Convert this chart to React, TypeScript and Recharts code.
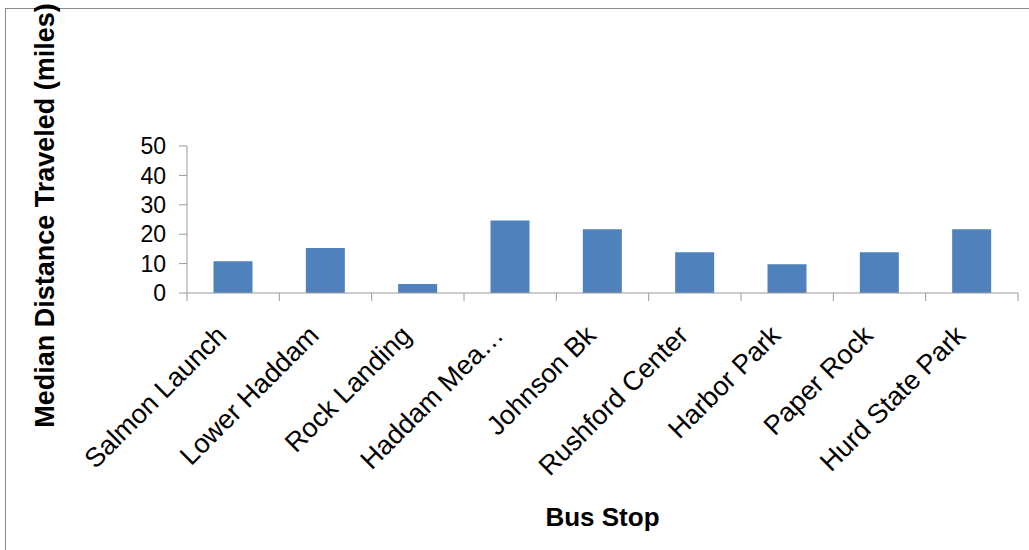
import { BarChart, Bar, XAxis, YAxis } from "recharts"

const stops = [
  "Salmon Launch",
  "Lower Haddam",
  "Rock Landing",
  "Haddam Mea…",
  "Johnson Bk",
  "Rushford Center",
  "Harbor Park",
  "Paper Rock",
  "Hurd State Park",
]
const medianMiles = [10.8, 15.3, 3.1, 24.7, 21.7, 13.9, 9.8, 13.9, 21.7]
const yTicks = [0, 10, 20, 30, 40, 50]

const data = stops.map((stop, i) => ({ stop, miles: medianMiles[i] }))

const font = "'Liberation Sans', Arial, sans-serif"
const axisGray = "#9a9a9a"

function StopTick(props: any) {
  const { x, y, payload, index, visibleTicksCount } = props
  const half = payload.offset ?? 0
  const axisY = y - 8
  const isLast = index === visibleTicksCount - 1
  return (
    <g>
      <line x1={x - half} y1={axisY} x2={x - half} y2={axisY + 8} stroke={axisGray} />
      {isLast && (
        <line x1={x + half} y1={axisY} x2={x + half} y2={axisY + 8} stroke={axisGray} />
      )}
      <text
        transform={`translate(${x - 5},${y + 36}) rotate(-45)`}
        textAnchor="end"
        fontSize={27}
        fontFamily={font}
        fill="#000"
      >
        {payload.value}
      </text>
    </g>
  )
}

export default function App() {
  return (
    <div
      style={{
        position: "absolute",
        left: 0,
        top: 0,
        width: 1029,
        height: 550,
        overflow: "hidden",
        background: "#fff",
      }}
    >
      <div
        style={{
          position: "absolute",
          left: 5,
          top: 8,
          width: 1060,
          height: 580,
          border: "1px solid #8c8c8c",
        }}
      />
      <div style={{ position: "absolute", left: 0, top: 0 }}>
        <BarChart
          width={1029}
          height={550}
          data={data}
          margin={{ top: 146, right: 11, bottom: 0, left: 0 }}
          barCategoryGap="28.7%"
        >
          <YAxis
            width={187}
            domain={[0, 50]}
            ticks={yTicks}
            interval={0}
            tickSize={8}
            tickMargin={13}
            stroke={axisGray}
            tick={{ fill: "#000", fontSize: 23, fontFamily: font }}
            label={{
              content: ({ viewBox }: any) => (
                <text
                  transform={`translate(54,${viewBox.y + viewBox.height / 2 - 4}) rotate(-90)`}
                  textAnchor="middle"
                  fontSize={27}
                  fontWeight="bold"
                  fontFamily={font}
                  fill="#000"
                >
                  Median Distance Traveled (miles)
                </text>
              ),
            }}
          />
          <XAxis
            dataKey="stop"
            height={257}
            interval={0}
            tickSize={8}
            tickMargin={0}
            tickLine={false}
            stroke={axisGray}
            tick={<StopTick />}
            label={{
              content: ({ viewBox }: any) => (
                <text
                  x={viewBox.x + viewBox.width / 2}
                  y={526}
                  textAnchor="middle"
                  fontSize={26}
                  fontWeight="bold"
                  fontFamily={font}
                  fill="#000"
                >
                  Bus Stop
                </text>
              ),
            }}
          />
          <Bar dataKey="miles" fill="#4f81bd" isAnimationActive={false} />
        </BarChart>
      </div>
    </div>
  )
}
